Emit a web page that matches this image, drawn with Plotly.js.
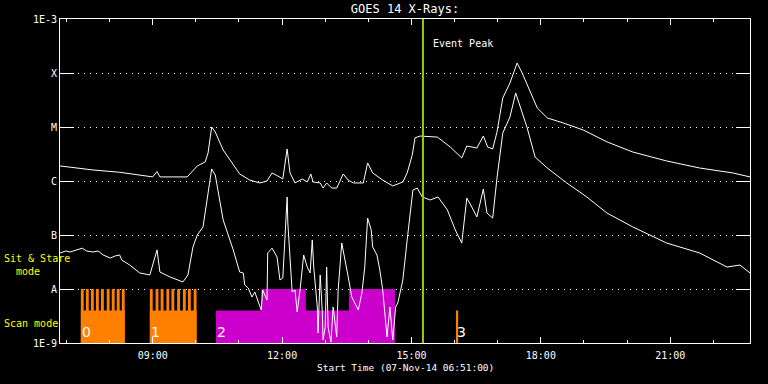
<!DOCTYPE html>
<html>
<head>
<meta charset="utf-8">
<script src="https://cdn.plot.ly/plotly-3.0.1.min.js"></script>
<style>
  html, body { margin: 0; padding: 0; background: #000; }
  #chart { width: 768px; height: 384px; }
</style>
</head>
<body>
<div id="chart"></div>
<script>
// ---------------- DATA ----------------
const dayLabel = 'Start Time (07-Nov-14 06:51:00)';
const rangeStart = '06:51';
const rangeEnd = '22:51';

// GOES 14 long channel (1-8 A), W/m^2
const longTime = ['06:51','07:37','08:14','09:00','09:06','09:10','09:48','09:56','10:02','10:13','10:17','10:22','10:27','10:38',
  '11:01','11:15','11:29','11:39','11:46','11:54','12:01','12:07','12:11','12:18','12:28','12:35','12:40','12:43','12:53','12:57',
  '13:02','13:09','13:16','13:25','13:32','13:39','13:53','13:59','14:06','14:20','14:34','14:48','14:54','15:01','15:05','15:12',
  '15:36','15:54','16:10','16:17','16:31','16:40','16:46','16:53','16:59','17:07','17:17','17:27','17:34','17:55','18:09','18:31',
  '18:59','19:32','20:08','20:55','21:41','22:27','22:51'];
const longFlux = [1.90e-6,1.60e-6,1.45e-6,1.19e-6,1.50e-6,1.19e-6,1.19e-6,1.60e-6,1.90e-6,2.25e-6,3.30e-6,1.0e-5,8.1e-6,3.75e-6,
  1.35e-6,1.04e-6,9.2e-7,1.0e-6,1.41e-6,1.24e-6,1.09e-6,3.92e-6,1.41e-6,9.2e-7,1.09e-6,9.6e-7,1.35e-6,9.6e-7,9.2e-7,7.4e-7,
  9.2e-7,7.4e-7,7.4e-7,1.35e-6,1.04e-6,9.2e-7,9.2e-7,2.16e-6,1.41e-6,1.04e-6,8.1e-7,9.6e-7,1.41e-6,3.0e-6,6.3e-6,6.8e-6,
  6.5e-6,4.26e-6,2.67e-6,4.45e-6,4.08e-6,6.8e-6,4.26e-6,3.92e-6,8.1e-6,3.44e-5,6.53e-5,1.53e-4,1.0e-4,2.25e-5,1.47e-5,1.19e-5,
  8.8e-6,5.3e-6,3.44e-6,2.35e-6,1.74e-6,1.41e-6,1.19e-6];

// GOES 14 short channel (0.5-4 A), W/m^2
const shortTime = ['06:51','06:59','07:05','07:14','07:22','07:28','07:37','07:44','07:51','08:01','08:08','08:14','08:17','08:28','08:42','08:56','09:06','09:10','09:24',
  '09:42','09:49','09:56','10:02','10:10','10:17','10:22','10:27','10:38','10:52','11:01','11:06','11:08','11:13','11:18','11:22',
  '11:26','11:31','11:33','11:39','11:40','11:46','11:53','11:57','12:01','12:07','12:08','12:14','12:18','12:21','12:25','12:28',
  '12:30','12:35','12:39','12:42','12:44','12:49','12:50','12:53','12:56','12:57','13:00','13:02','13:04','13:08','13:11','13:16',
  '13:18','13:23','13:27','13:32','13:37','13:41','13:46','13:51','13:55','13:59','14:04','14:06','14:12','14:16','14:20','14:26',
  '14:30','14:34','14:38','14:41','14:48','14:54','15:02','15:08','15:15','15:26','15:37','15:50','16:01','16:10','16:17','16:24',
  '16:31','16:40','16:45','16:53','16:59','17:07','17:17','17:25','17:31','17:41','17:52','18:09','18:36','19:04','19:32','20:08',
  '20:55','21:41','22:19','22:37','22:51'];
const shortFlux = [4.64e-8,5.06e-8,4.84e-8,5.3e-8,5.7e-8,5.06e-8,4.84e-8,5.06e-8,4.26e-8,3.75e-8,4.1e-8,4.26e-8,3.44e-8,2.78e-8,1.98e-8,1.82e-8,5.3e-8,2.06e-8,1.67e-8,
  1.35e-8,1.82e-8,6.0e-8,1.0e-7,1.41e-7,6.0e-7,1.67e-6,1.29e-6,1.90e-7,5.3e-8,2.06e-8,1.98e-8,1.19e-8,1.04e-8,7.1e-9,8.8e-9,
  6.25e-9,4.08e-9,9.6e-9,6.25e-9,4.64e-8,5.7e-8,3.92e-8,1.47e-8,1.60e-8,5.06e-7,1.67e-7,8.8e-9,9.6e-9,3.75e-9,9.6e-9,2.78e-8,
  4.26e-8,2.55e-8,1.98e-8,8.1e-8,2.55e-8,4.64e-9,1.53e-9,1.82e-8,3.6e-9,1.14e-9,1.98e-9,2.55e-8,1.98e-9,1.04e-9,4.64e-9,1.29e-9,
  9.6e-9,7.1e-8,3.92e-8,1.67e-8,7.1e-9,5.5e-9,4.08e-9,8.4e-9,2.55e-8,2.06e-7,1.24e-7,6.0e-8,4.26e-8,2.25e-8,9.6e-9,1.29e-9,
  4.64e-9,1.14e-9,4.64e-9,5.5e-9,1.47e-8,8.1e-8,6.8e-7,7.4e-7,5.06e-7,4.45e-7,5.06e-7,2.90e-7,1.24e-7,7.1e-8,4.84e-7,3.30e-7,
  2.16e-7,7.1e-7,2.55e-7,2.06e-7,1.14e-6,7.7e-6,1.53e-5,4.26e-5,2.35e-5,9.6e-6,2.78e-6,1.74e-6,9.2e-7,5.06e-7,2.55e-7,1.41e-7,
  7.1e-8,4.64e-8,2.55e-8,2.78e-8,1.98e-8];

// Observing-mode segments
const segStart = ['07:20','08:56','10:28','16:02'];
const segEnd   = ['08:21','10:01','14:37','16:05'];
const segLabel = ['0','1','2','3'];
const segMode  = ['scan','scan','sit','scan'];
// Sit & stare sub-intervals and their levels
const sitStart = ['10:28','11:31','12:33','13:33'];
const sitEnd   = ['11:31','12:33','13:33','14:37'];
const sitLevel = [4e-9,1e-8,4e-9,1e-8];
// Scan raster starts (teeth), each lasting toothMinutes
const toothStart = ['07:20','07:27','07:34','07:41','07:48','07:56','08:03','08:10','08:17',
                    '08:56','09:04','09:11','09:19','09:26','09:34','09:42','09:49','09:57'];
const toothMinutes = 4;
const fluxFloor = 1e-9, scanLevel = 4e-9, toothLevel = 1e-8;

const peakTime = '15:16';

const yTickVals = [1e-9,1e-8,1e-7,1e-6,1e-5,1e-4,1e-3];
const yTickText = ['1E-9','A','B','C','M','X','1E-3'];

// ---------------- helpers ----------------
function ms(hm) { const p = hm.split(':'); return Date.UTC(2014, 10, 7, +p[0], +p[1]); }
function boxes(starts, ends, lows, highs) {
  const x = [], y = [];
  for (let i = 0; i < starts.length; i++) {
    x.push(starts[i], starts[i], ends[i], ends[i], starts[i], null);
    y.push(lows[i], highs[i], highs[i], lows[i], lows[i], null);
  }
  return {x, y};
}

const ORANGE = '#ff8000', MAGENTA = '#cc00cc', PEAK = '#99cc00';

const scanIdx = segMode.map((m, i) => m === 'scan' ? i : -1).filter(i => i >= 0);
const scanBox = boxes(scanIdx.map(i => ms(segStart[i])), scanIdx.map(i => ms(segEnd[i])),
                      scanIdx.map(() => fluxFloor), scanIdx.map(() => scanLevel));
const toothBox = boxes(toothStart.map(ms), toothStart.map(t => ms(t) + toothMinutes * 60000),
                       toothStart.map(() => fluxFloor), toothStart.map(() => toothLevel));
const sitBox = boxes(sitStart.map(ms), sitEnd.map(ms), sitStart.map(() => fluxFloor), sitLevel);

const traces = [
  {x: scanBox.x, y: scanBox.y, type: 'scatter', mode: 'lines', fill: 'toself', fillcolor: ORANGE,
   line: {width: 0, color: ORANGE}, hoverinfo: 'skip'},
  {x: toothBox.x, y: toothBox.y, type: 'scatter', mode: 'lines', fill: 'toself', fillcolor: ORANGE,
   line: {width: 0, color: ORANGE}, hoverinfo: 'skip'},
  {x: sitBox.x, y: sitBox.y, type: 'scatter', mode: 'lines', fill: 'toself', fillcolor: MAGENTA,
   line: {width: 0, color: MAGENTA}, hoverinfo: 'skip'},
  {x: longTime.map(ms), y: longFlux, type: 'scatter', mode: 'lines', line: {color: '#ffffff', width: 1}},
  {x: shortTime.map(ms), y: shortFlux, type: 'scatter', mode: 'lines', line: {color: '#ffffff', width: 1}},
  {x: [ms(peakTime), ms(peakTime)], y: [1e-9, 1e-3], type: 'scatter', mode: 'lines', line: {color: PEAK, width: 2}}
];

const MONO = 'DejaVu Sans Mono, monospace';
const PL = 60, PR = 750, PT = 19, PB = 343;
function px2paperX(px) { return (px - PL) / (PR - PL); }
function px2paperY(py) { return (PB - py) / (PB - PT); }

const annotations = [
  {text: 'Event Peak', x: ms(peakTime), xref: 'x', xanchor: 'left', xshift: 8, y: px2paperY(43), yref: 'paper',
   yanchor: 'middle', showarrow: false, font: {family: MONO, size: 10, color: '#ffffff'}},
  {text: 'Sit & Stare', x: px2paperX(2), xref: 'paper', xanchor: 'left', y: px2paperY(258), yref: 'paper',
   yanchor: 'middle', showarrow: false, font: {family: MONO, size: 10, color: '#ffff00'}},
  {text: 'mode', x: px2paperX(14), xref: 'paper', xanchor: 'left', y: px2paperY(271), yref: 'paper',
   yanchor: 'middle', showarrow: false, font: {family: MONO, size: 10, color: '#ffff00'}},
  {text: 'Scan mode', x: px2paperX(2), xref: 'paper', xanchor: 'left', y: px2paperY(323), yref: 'paper',
   yanchor: 'middle', showarrow: false, font: {family: MONO, size: 10, color: '#ffff00'}},
  {text: dayLabel, x: 0.5, xref: 'paper', xanchor: 'center', y: px2paperY(368), yref: 'paper',
   yanchor: 'middle', showarrow: false, font: {family: MONO, size: 9.5, color: '#ffffff'}}
];
segLabel.forEach((lab, i) => {
  annotations.push({text: lab, x: ms(segStart[i]), xref: 'x', xanchor: 'left', xshift: -1, y: px2paperY(332), yref: 'paper',
    yanchor: 'middle', showarrow: false, font: {family: 'DejaVu Sans, sans-serif', size: 14, color: '#ffffff'}});
});

const layout = {
  width: 768, height: 384,
  paper_bgcolor: '#000000', plot_bgcolor: '#000000',
  margin: {l: PL, r: 768 - PR, t: PT, b: 384 - PB, pad: 0},
  showlegend: false,
  title: {text: 'GOES 14 X-Rays:', x: 0.5, xref: 'paper', xanchor: 'center', y: 1 - 9 / 384, yref: 'container', yanchor: 'middle',
          font: {family: MONO, size: 12, color: '#ffffff'}},
  xaxis: {
    type: 'date', range: [ms(rangeStart), ms(rangeEnd)],
    showgrid: false, zeroline: false,
    showline: true, linecolor: '#ffffff', linewidth: 1, mirror: 'ticks',
    ticks: 'inside', ticklen: 6, tickwidth: 1, tickcolor: '#ffffff',
    tick0: ms('00:00'), dtick: 3 * 3600000, tickformat: '%H:%M',
    ticklabelstandoff: 3,
    tickfont: {family: MONO, size: 10, color: '#ffffff'},
    minor: {dtick: 3600000, tick0: ms('00:00'), ticks: 'inside', ticklen: 3, tickwidth: 1, tickcolor: '#ffffff', showgrid: false},
    fixedrange: true
  },
  yaxis: {
    type: 'log', range: [-9, -3],
    tickvals: yTickVals, ticktext: yTickText,
    showgrid: true, gridcolor: '#ffffff', gridwidth: 1, griddash: '1px,5px',
    zeroline: false,
    showline: true, linecolor: '#ffffff', linewidth: 1, mirror: 'ticks',
    ticks: 'inside', ticklen: 14, tickwidth: 1, tickcolor: '#ffffff',
    tickfont: {family: MONO, size: 10, color: '#ffffff'},
    fixedrange: true
  },
  annotations: annotations
};

Plotly.newPlot('chart', traces, layout, {staticPlot: true, displayModeBar: false});
</script>
</body>
</html>
